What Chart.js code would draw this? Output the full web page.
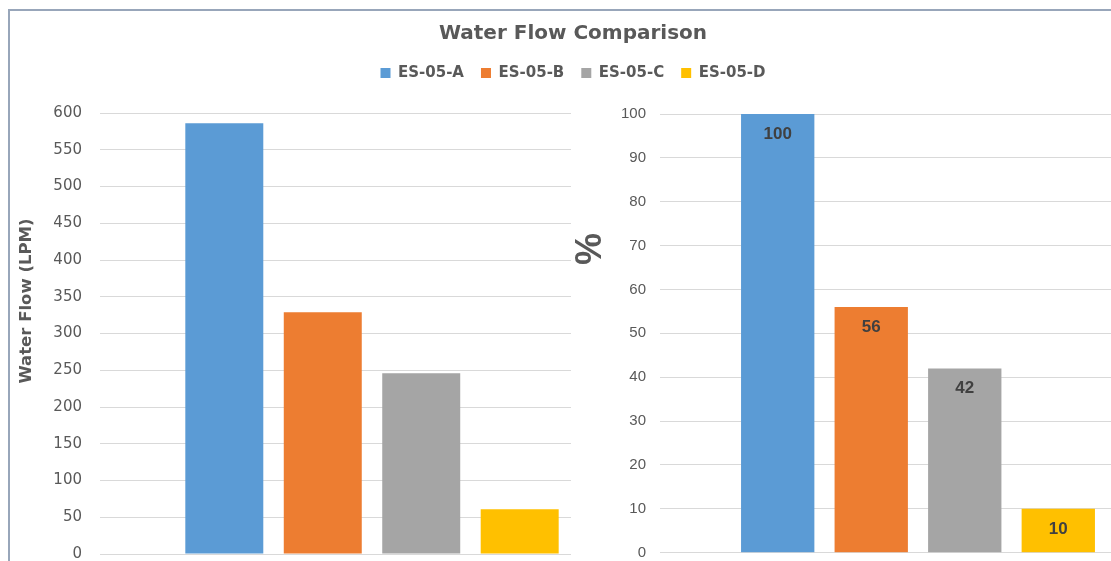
<!DOCTYPE html>
<html>
<head>
<meta charset="utf-8">
<script src="https://cdn.jsdelivr.net/npm/chart.js@4/dist/chart.umd.min.js"></script>
<style>
  html, body { margin: 0; padding: 0; background: #fff; overflow: hidden; width: 1111px; height: 561px; }
  #stage { position: relative; width: 1111px; height: 561px; overflow: hidden; background: #fff; }
  #frame { position: absolute; left: 8px; top: 9px; width: 1300px; height: 700px;
           border-left: 2px solid #98A6BA; border-top: 2px solid #98A6BA; }
  #flow { position: absolute; left: 0; top: 0; }
  #share { position: absolute; left: 571px; top: 95px; background: #fff; }
</style>
</head>
<body>
<div id="stage">
  <div id="frame"></div>
  <canvas id="flow" width="1146" height="561"></canvas>
  <canvas id="share" width="620" height="466"></canvas>
</div>
<script>
// Sensors compared
const categories = ['ES-05-A', 'ES-05-B', 'ES-05-C', 'ES-05-D'];
// Measured water flow, litres per minute
const flowLpm = [586, 329, 246, 61];
// Flow relative to ES-05-A, percent
const flowPercent = [100, 56, 42, 10];
// Series colours
const seriesColors = ['#5B9BD5', '#ED7D31', '#A5A5A5', '#FFC000'];
// Value axis ranges
const lpmAxis = { min: 0, max: 600, step: 50 };
const pctAxis = { min: 0, max: 100, step: 10 };

const TEXT = '#595959';
const GRID = '#D9D9D9';

// Rotated caption beside a value axis
const sideCaption = {
  id: 'sideCaption',
  afterDraw(chart, args, opts) {
    const ctx = chart.ctx;
    ctx.save();
    ctx.translate(opts.x, opts.y);
    ctx.rotate(-Math.PI / 2);
    ctx.font = opts.font;
    ctx.fillStyle = opts.color;
    ctx.textAlign = 'center';
    ctx.textBaseline = 'middle';
    ctx.fillText(opts.text, 0, 0);
    ctx.restore();
  }
};

// Value printed just inside the top of each bar
const valueLabels = {
  id: 'valueLabels',
  afterDatasetsDraw(chart, args, opts) {
    const ctx = chart.ctx;
    ctx.save();
    ctx.font = opts.font;
    ctx.fillStyle = opts.color;
    ctx.textAlign = 'center';
    ctx.textBaseline = 'middle';
    chart.data.datasets.forEach((ds, i) => {
      chart.getDatasetMeta(i).data.forEach((bar, j) => {
        ctx.fillText(String(ds.data[j]), bar.x, bar.y + opts.inset);
      });
    });
    ctx.restore();
  }
};

function seriesSets(values, catPct, barPct) {
  return categories.map((name, i) => ({
    label: name,
    data: [values[i]],
    backgroundColor: seriesColors[i],
    borderWidth: 0,
    categoryPercentage: catPct,
    barPercentage: barPct
  }));
}

function spacer(axis, position, size) {
  return {
    axis: axis, type: 'linear', position: position, display: true,
    grid: { display: false }, ticks: { display: false }, border: { display: false },
    afterFit(s) { if (axis === 'x') s.height = size; else s.width = size; }
  };
}

// Left panel: absolute flow, with the shared title and legend
new Chart(document.getElementById('flow'), {
  type: 'bar',
  data: { labels: [''], datasets: seriesSets(flowLpm, 0.724, 0.792) },
  options: {
    responsive: false,
    animation: false,
    layout: { padding: { left: 0, right: 0, top: 0, bottom: 7 } },
    scales: {
      x: { display: false },
      y: {
        min: lpmAxis.min, max: lpmAxis.max,
        ticks: { stepSize: lpmAxis.step, padding: 18, color: TEXT, font: { family: 'DejaVu Sans', size: 15 } },
        grid: { color: GRID, lineWidth: 1, drawTicks: false },
        border: { display: false },
        afterFit(s) { s.width = 100; s.paddingTop = 0; s.paddingBottom = 0; }
      },
      gapTop: spacer('x', 'top', 22.5),
      gapRight: spacer('y', 'right', 502)
    },
    plugins: {
      title: {
        display: true, text: 'Water Flow Comparison', color: TEXT,
        font: { family: 'DejaVu Sans', size: 20, weight: 'bold' },
        padding: { top: 22, bottom: 2.5 }
      },
      legend: {
        display: true, position: 'top',
        labels: { color: TEXT, font: { family: 'DejaVu Sans', size: 15, weight: 'bold' }, boxWidth: 10, boxHeight: 10, padding: 17 }
      },
      tooltip: { enabled: false },
      sideCaption: { text: 'Water Flow (LPM)', x: 27, y: 301, font: 'bold 16.5px "DejaVu Sans"', color: TEXT }
    }
  },
  plugins: [sideCaption]
});

// Right panel: flow as a share of ES-05-A
new Chart(document.getElementById('share'), {
  type: 'bar',
  data: { labels: [''], datasets: seriesSets(flowPercent, 0.725, 0.784) },
  options: {
    responsive: false,
    animation: false,
    layout: { padding: { left: 0, right: 15, top: 19, bottom: 8.3 } },
    scales: {
      x: { display: false },
      y: {
        min: pctAxis.min, max: pctAxis.max,
        ticks: { stepSize: pctAxis.step, padding: 14, color: TEXT, font: { family: 'Liberation Sans', size: 15 } },
        grid: { color: GRID, lineWidth: 1, drawTicks: false },
        border: { display: false },
        afterFit(s) { s.width = 89; s.paddingTop = 0; s.paddingBottom = 0; }
      }
    },
    plugins: {
      title: { display: false },
      legend: { display: false },
      tooltip: { enabled: false },
      valueLabels: { font: 'bold 17px "Liberation Sans"', color: '#404040', inset: 20 },
      sideCaption: { text: '%', x: 20, y: 154, font: 'bold 36px "Liberation Sans Narrow", "Liberation Sans"', color: TEXT }
    }
  },
  plugins: [valueLabels, sideCaption]
});
</script>
</body>
</html>
